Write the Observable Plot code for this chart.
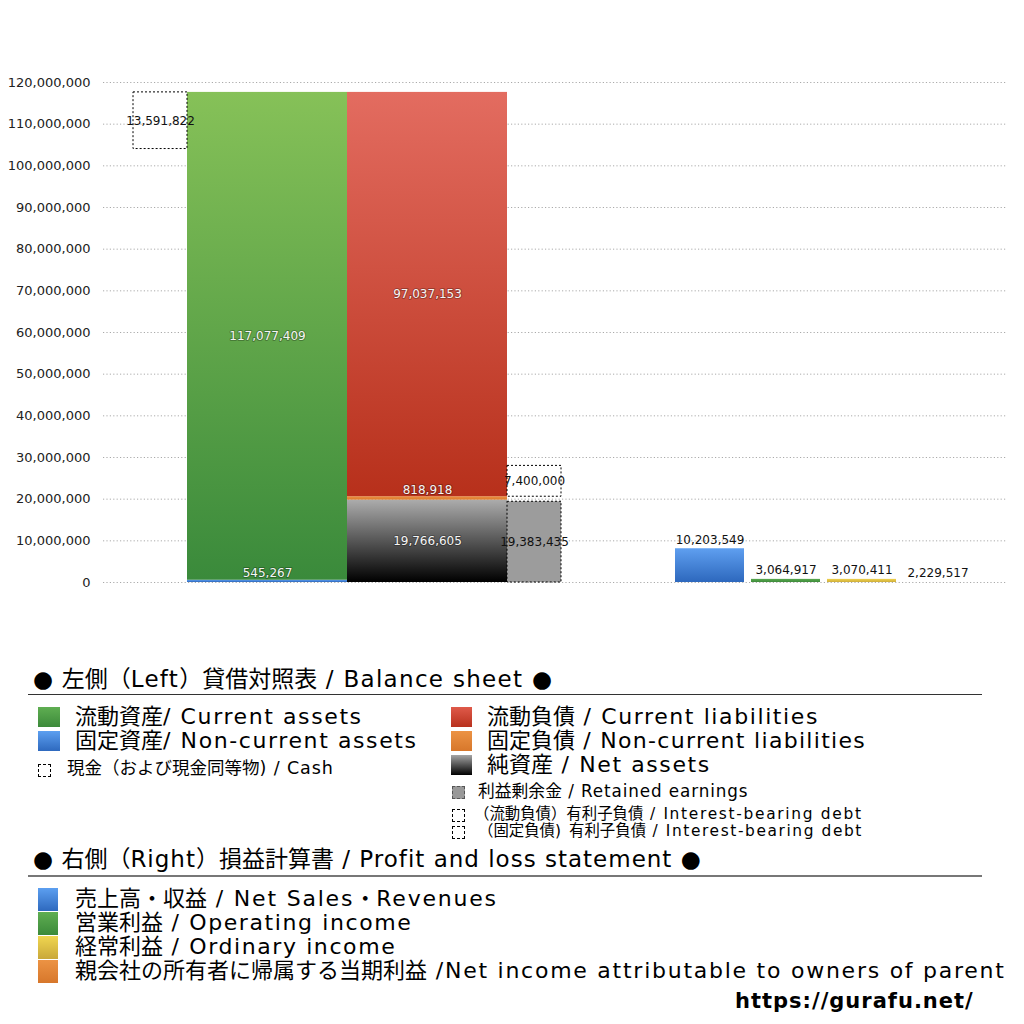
<!DOCTYPE html>
<html>
<head>
<meta charset="utf-8">
<script src="https://cdn.jsdelivr.net/npm/d3@7"></script>
<script src="https://cdn.jsdelivr.net/npm/@observablehq/plot@0.6"></script>
<style>
  body { margin: 0; background: #fff; font-family: "DejaVu Sans", "Noto Sans CJK JP", sans-serif; color: #000; }
  #wrap { position: relative; width: 1024px; height: 1024px; overflow: hidden; }
  #chart { position: absolute; left: 0; top: 0; }
  .t { position: absolute; white-space: nowrap; line-height: 1; }
  .sw { position: absolute; box-sizing: border-box; }
</style>
</head>
<body>
<div id="wrap"><div id="chart"></div><div id="legend"></div></div>
<script>
// ---------- data ----------
const yTicks = [0, 10000000, 20000000, 30000000, 40000000, 50000000, 60000000, 70000000, 80000000, 90000000, 100000000, 110000000, 120000000];

// Balance sheet – assets (stacked bottom to top)
const assetNames = ["固定資産 / Non-current assets", "流動資産 / Current assets"];
const assetValues = [545267, 117077409];
// Balance sheet – liabilities & net assets (stacked bottom to top)
const liabNames = ["純資産 / Net assets", "固定負債 / Non-current liabilities", "流動負債 / Current liabilities"];
const liabValues = [19766605, 818918, 97037153];
// Supplementary boxes
const cashValue = 13591822;
const retainedEarnings = 19383435;
const debtCurrent = 7400000;
const debtNonCurrent = 0;

// Profit and loss statement
const plNames = ["売上高・収益", "営業利益", "経常利益", "親会社株主に帰属する当期純利益"];
const plLabels = [10203549, 3064917, 3070411, 2229517];
const plBarHeights = [8100000, 750000, 750000, 0]; // heights as drawn in the reference

// ---------- layout (x units) ----------
const fmt = d3.format(",");
const X = {cash: [30, 84], assets: [84, 244], liab: [244, 404], debt: [404, 458]};
const plX = [[572, 641], [648, 717], [724, 793], [800, 869]];
const assetFills = ["url(#gBlue)", "url(#gGreen)"];
const liabFills = ["url(#gBlack)", "url(#gOrange)", "url(#gRed)"];
const plFills = ["url(#gBlue)", "url(#gGreen2)", "url(#gYellow)", "url(#gOrange)"];

function stack(values, names, fills, xr) {
  let acc = 0;
  return values.map((v, i) => {
    const r = {name: names[i], value: v, y1: acc, y2: acc + v, x1: xr[0], x2: xr[1], fill: fills[i]};
    acc += v;
    return r;
  });
}
const assetRows = stack(assetValues, assetNames, assetFills, X.assets);
const liabRows = stack(liabValues, liabNames, liabFills, X.liab);
const totalAssets = d3.sum(assetValues);

const cashRow = [{x1: X.cash[0], x2: X.cash[1], y1: totalAssets - cashValue, y2: totalAssets, value: cashValue}];
const retainedRow = [{x1: X.debt[0], x2: X.debt[1], y1: 0, y2: retainedEarnings, value: retainedEarnings}];
const debtBase = liabValues[0] + liabValues[1] + debtNonCurrent;
const debtRow = [{x1: X.debt[0], x2: X.debt[1], y1: debtBase, y2: debtBase + debtCurrent, value: debtCurrent}];
const plRows = plNames.map((n, i) => ({name: n, label: plLabels[i], h: plBarHeights[i], x1: plX[i][0], x2: plX[i][1], fill: plFills[i]}));

// big segments: label in the middle; small ones: label above top
const innerLabels = [...assetRows, ...liabRows].filter(d => d.value > 5000000);
const topLabels = [...assetRows, ...liabRows].filter(d => d.value <= 5000000);

const defs = () => {
  const svgNS = "http://www.w3.org/2000/svg";
  const d = document.createElementNS(svgNS, "defs");
  const grads = {
    gGreen: ["#86c158", "#3a8a3b"],
    gGreen2: ["#5aa94f", "#3d8b3a"],
    gBlue: ["#5f9ff0", "#2d68bd"],
    gRed: ["#e36c60", "#b7301b"],
    gOrange: ["#ec9142", "#dc7a2c"],
    gBlack: ["#acacac", "#000000"],
    gYellow: ["#efd24e", "#cfae3a"]
  };
  for (const [id, [a, b]] of Object.entries(grads)) {
    const g = document.createElementNS(svgNS, "linearGradient");
    g.setAttribute("id", id); g.setAttribute("x1", 0); g.setAttribute("x2", 0); g.setAttribute("y1", 0); g.setAttribute("y2", 1);
    const s1 = document.createElementNS(svgNS, "stop"); s1.setAttribute("offset", "0"); s1.setAttribute("stop-color", a);
    const s2 = document.createElementNS(svgNS, "stop"); s2.setAttribute("offset", "1"); s2.setAttribute("stop-color", b);
    g.append(s1, s2); d.append(g);
  }
  return d;
};

const chart = Plot.plot({
  width: 1024,
  height: 640,
  marginLeft: 103,
  marginRight: 17,
  marginTop: 82,
  marginBottom: 58,
  style: {fontFamily: "'DejaVu Sans', 'Noto Sans CJK JP', sans-serif", background: "transparent"},
  x: {domain: [0, 904], axis: null},
  y: {domain: [0, 120000000], axis: null},
  marks: [
    defs,
    Plot.ruleY(yTicks, {x1: 0, x2: 904, y: d => d, stroke: "#aaa", strokeDasharray: "1.2,2.2", strokeWidth: 1}),
    Plot.axisY(yTicks, {tickSize: 0, tickPadding: 13, tickFormat: fmt, fontSize: 13, fill: "#222"}),
    Plot.rect([...assetRows, ...liabRows], {x1: "x1", x2: "x2", y1: "y1", y2: "y2", fill: "fill"}),
    Plot.rect(retainedRow, {x1: "x1", x2: "x2", y1: "y1", y2: "y2", fill: "#9c9c9c", stroke: "#000", strokeWidth: 1, strokeDasharray: "2,2"}),
    Plot.rect([...cashRow, ...debtRow], {x1: "x1", x2: "x2", y1: "y1", y2: "y2", fill: "none", stroke: "#000", strokeWidth: 1, strokeDasharray: "2,2"}),
    Plot.rect(plRows, {x1: "x1", x2: "x2", y1: 0, y2: "h", fill: "fill"}),
    Plot.text(innerLabels, {x: d => (d.x1 + d.x2) / 2, y: d => (d.y1 + d.y2) / 2, text: d => fmt(d.value), fill: "#f5f5f5", stroke: "rgba(0,0,0,0.25)", strokeWidth: 2, fontSize: 12}),
    Plot.text(topLabels, {x: d => (d.x1 + d.x2) / 2, y: "y2", dy: -7, text: d => fmt(d.value), fill: "#f5f5f5", stroke: "rgba(0,0,0,0.25)", strokeWidth: 2, fontSize: 12}),
    Plot.text([...cashRow, ...retainedRow, ...debtRow], {x: d => (d.x1 + d.x2) / 2, y: d => (d.y1 + d.y2) / 2, text: d => fmt(d.value), fill: "#111", fontSize: 12}),
    Plot.text(plRows, {x: d => (d.x1 + d.x2) / 2, y: "h", dy: -9, text: d => fmt(d.label), fill: "#111", fontSize: 12})
  ]
});
document.getElementById("chart").append(chart);

// ---------- legend (HTML) ----------
const L = document.getElementById("legend");
function txt(s, left, cy, size, ls, extra = "") {
  const e = document.createElement("div");
  e.className = "t";
  e.style.cssText += `left:${left}px;top:${cy - size * 0.55}px;font-size:${size}px;${extra}`;
  s.split(/([\x20-\x7E]+)/).forEach((part, i) => {
    if (!part) return;
    if (i % 2) {
      const sp = document.createElement("span");
      sp.style.letterSpacing = ls + "px";
      sp.textContent = part;
      e.append(sp);
    } else {
      e.append(document.createTextNode(part));
    }
  });
  L.append(e);
}
function sw(left, cy, w, h, style) {
  const e = document.createElement("div");
  e.className = "sw";
  e.style.cssText += `left:${left}px;top:${cy - h / 2}px;width:${w}px;height:${h}px;${style}`;
  L.append(e);
}
function line(top, h, color) {
  const e = document.createElement("div");
  e.className = "sw";
  e.style.cssText += `left:28px;top:${top}px;width:954px;height:${h}px;background:${color};`;
  L.append(e);
}
const G = {
  green: "linear-gradient(#5fae52,#3c8a3a)",
  blue: "linear-gradient(#5c9ff0,#2e69be)",
  red: "linear-gradient(#df5a4a,#b8311d)",
  orange: "linear-gradient(#ec9344,#d7772b)",
  black: "linear-gradient(#a5a5a5,#000)",
  yellow: "linear-gradient(#f0d650,#c9a83a)",
  dashed: "border:1px dashed #000;background:#fff;",
  gray: "border:1px dashed #555;background:#999;"
};

txt("● 左側（Left）貸借対照表 / Balance sheet ●", 33, 681, 23, 1.3);
line(694, 1, "#333");
sw(38, 717, 22, 20, `background:${G.green}`); txt("流動資産/ Current assets", 75, 718, 22, 1.6);
sw(38, 741, 22, 20, `background:${G.blue}`); txt("固定資産/ Non-current assets", 75, 742, 22, 1.6);
sw(38, 770, 13, 13, G.dashed); txt("現金（および現金同等物) / Cash", 67, 770, 17.5, 0.9);

sw(451, 717, 21, 20, `background:${G.red}`); txt("流動負債 /  Current liabilities", 487, 718, 22, 1.6);
sw(451, 741, 21, 20, `background:${G.orange}`); txt("固定負債 / Non-current liabilities", 487, 742, 22, 1.3);
sw(451, 765, 21, 20, `background:${G.black}`); txt("純資産 / Net assets", 487, 766, 22, 1.6);
sw(452, 792, 13, 13, G.gray); txt("利益剰余金 / Retained earnings", 478, 792, 16.8, 0.9);
sw(452, 815, 13, 13, G.dashed); txt("（流動負債）有利子負債 / Interest-bearing debt", 474, 815, 15.4, 1.7);
sw(452, 832, 13, 13, G.dashed); txt("（固定負債) 有利子負債 / Interest-bearing debt", 478, 832, 15.4, 1.6);

txt("● 右側（Right）損益計算書 / Profit and loss statement ●", 33, 861, 23, 1.0);
line(875, 2, "#777");
sw(38, 899, 20, 23, `background:${G.blue}`); txt("売上高・収益 / Net Sales・Revenues", 75, 900, 22, 1.8);
sw(38, 923, 20, 23, `background:${G.green}`); txt("営業利益 / Operating income", 75, 924, 22, 1.6);
sw(38, 947, 20, 23, `background:${G.yellow}`); txt("経常利益 / Ordinary income", 75, 948, 22, 1.6);
sw(38, 971, 20, 23, `background:${G.orange}`); txt("親会社の所有者に帰属する当期利益 /Net income attributable to owners of parent", 75, 972, 22, 1.75);

txt("https://gurafu.net/", 735, 1003, 21, 1, "font-weight:bold;");
</script>
</body>
</html>
